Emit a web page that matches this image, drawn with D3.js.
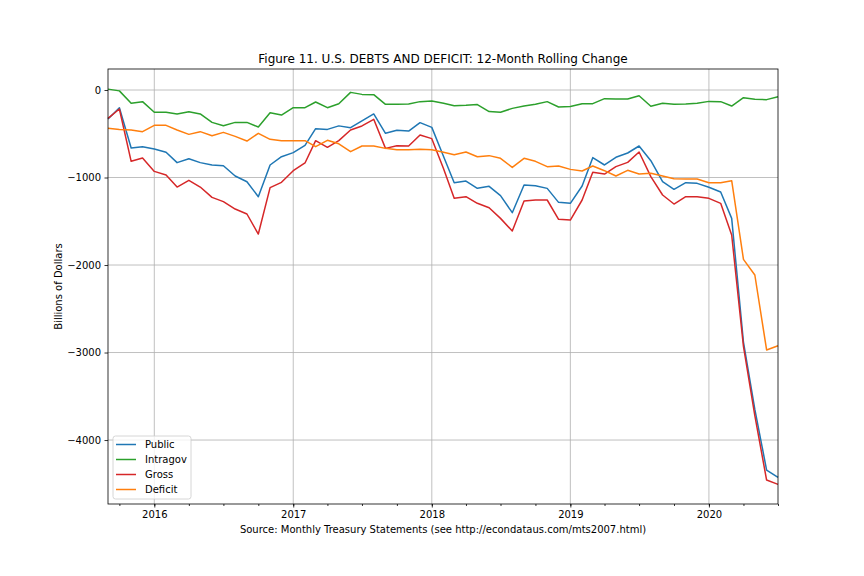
<!DOCTYPE html>
<html>
<head>
<meta charset="utf-8">
<script src="https://cdn.jsdelivr.net/npm/d3@7"></script>
<style>
  body { margin: 0; background: #fff; }
  text { font-family: "DejaVu Sans", sans-serif; }
</style>
</head>
<body>
<svg width="864" height="576"></svg>
<script>
// monthly points, Sep 2015 .. Jul 2020
const startMonth = new Date(2015, 8, 1);
const nMonths = 59;

const publicDebt = [-331, -202, -663, -648, -674, -712, -830, -785, -830, -857, -865, -983, -1048, -1219, -857, -762, -716, -632, -442, -450,
  -410, -431, -354, -274, -495, -461, -469, -373, -427, -760, -1059, -1040, -1124, -1101, -1207, -1402, -1086, -1093, -1124, -1284,
  -1295, -1097, -773, -857, -769, -720, -640, -808, -1048, -1135, -1059, -1067, -1112, -1166, -1467, -2880, -3650, -4343, -4427];
const intragov = [10, -10, -152, -133, -255, -255, -274, -248, -274, -370, -408, -370, -370, -423, -259, -286, -202, -202, -137, -202,
  -158, -27, -50, -53, -164, -164, -160, -133, -126, -152, -179, -175, -167, -247, -255, -210, -183, -164, -133, -194,
  -188, -156, -156, -99, -103, -103, -65, -186, -152, -164, -160, -152, -130, -133, -183, -88, -107, -110, -76];
const gross = [-324, -217, -815, -777, -930, -971, -1109, -1032, -1109, -1227, -1276, -1360, -1417, -1646, -1116, -1055, -922, -834, -579, -655,
  -578, -457, -411, -335, -667, -636, -640, -514, -556, -900, -1238, -1219, -1295, -1345, -1467, -1611, -1269, -1257, -1257, -1478,
  -1486, -1257, -941, -960, -876, -827, -709, -990, -1200, -1303, -1219, -1219, -1238, -1295, -1657, -2930, -3720, -4457, -4507];
const deficit = [-438, -450, -457, -476, -404, -404, -457, -507, -476, -522, -484, -530, -583, -495, -564, -579, -579, -579, -648, -575,
  -615, -705, -640, -640, -667, -682, -682, -678, -682, -712, -739, -709, -762, -750, -781, -884, -781, -815, -876, -869,
  -907, -926, -869, -922, -983, -918, -960, -952, -983, -1013, -1017, -1017, -1059, -1059, -1036, -1935, -2114, -2971, -2922];

const seriesNames = ["Public", "Intragov", "Gross", "Deficit"];
const seriesColors = ["#1f77b4", "#2ca02c", "#d62728", "#ff7f0e"];
const yTicks = [0, -1000, -2000, -3000, -4000];

let svg = d3.select("svg");
let margin = { left: 108, right: 778, top: 69, bottom: 504 };

let dates = d3.range(nMonths).map(i => d3.timeMonth.offset(startMonth, i));
let allSeries = [publicDebt, intragov, gross, deficit];

let x = d3.scaleTime()
  .domain([dates[0], dates[nMonths - 1]])
  .range([margin.left, margin.right]);
let y = d3.scaleLinear()
  .domain([-4731, 240])
  .range([margin.bottom, margin.top]);

// grid
svg.append("g")
  .selectAll("line.gx")
  .data(x.ticks(d3.timeYear.every(1)))
  .enter().append("line")
  .attr("x1", d => x(d)).attr("x2", d => x(d))
  .attr("y1", margin.top).attr("y2", margin.bottom)
  .attr("stroke", "#b0b0b0").attr("stroke-width", 0.8);
svg.append("g")
  .selectAll("line.gy")
  .data(yTicks)
  .enter().append("line")
  .attr("x1", margin.left).attr("x2", margin.right)
  .attr("y1", d => y(d)).attr("y2", d => y(d))
  .attr("stroke", "#b0b0b0").attr("stroke-width", 0.8);

// lines
let line = d3.line()
  .x((d, i) => x(dates[i]))
  .y(d => y(d));

svg.append("g")
  .selectAll("path")
  .data(allSeries)
  .enter().append("path")
  .attr("d", d => line(d))
  .attr("fill", "none")
  .attr("stroke", (d, i) => seriesColors[i])
  .attr("stroke-width", 1.5)
  .attr("stroke-linejoin", "round");

// axes
let xAxis = d3.axisBottom(x)
  .ticks(d3.timeYear.every(1))
  .tickFormat(d3.timeFormat("%Y"))
  .tickSize(3.5)
  .tickPadding(3.5);
let xMinor = d3.axisBottom(x)
  .ticks(d3.timeMonth.every(3))
  .tickFormat("")
  .tickSize(2);
let yAxis = d3.axisLeft(y)
  .tickValues(yTicks)
  .tickFormat(d => d === 0 ? "0" : "\u2212" + Math.abs(d))
  .tickSize(3.5)
  .tickPadding(3.5);

let gxm = svg.append("g").attr("transform", `translate(0,${margin.bottom})`).call(xMinor);
let gx = svg.append("g").attr("transform", `translate(0,${margin.bottom})`).call(xAxis);
let gy = svg.append("g").attr("transform", `translate(${margin.left},0)`).call(yAxis);
for (let g of [gx, gy, gxm]) {
  g.select(".domain").remove();
  g.selectAll("text").attr("font-size", 10).attr("fill", "#000")
    .style("font-family", "DejaVu Sans");
  g.selectAll("line").attr("stroke", "#000").attr("stroke-width", 0.8);
}

// frame
svg.append("rect")
  .attr("x", margin.left).attr("y", margin.top)
  .attr("width", margin.right - margin.left)
  .attr("height", margin.bottom - margin.top)
  .attr("fill", "none").attr("stroke", "#000").attr("stroke-width", 0.8);

// labels
svg.append("text")
  .attr("x", (margin.left + margin.right) / 2).attr("y", 63)
  .attr("text-anchor", "middle").attr("font-size", 12)
  .text("Figure 11. U.S. DEBTS AND DEFICIT: 12-Month Rolling Change");
svg.append("text")
  .attr("x", (margin.left + margin.right) / 2).attr("y", 533)
  .attr("text-anchor", "middle").attr("font-size", 10)
  .text("Source: Monthly Treasury Statements (see http://econdataus.com/mts2007.html)");
svg.append("text")
  .attr("transform", `translate(62,${(margin.top + margin.bottom) / 2}) rotate(-90)`)
  .attr("text-anchor", "middle").attr("font-size", 10)
  .text("Billions of Dollars");

// legend
let legend = svg.append("g").attr("transform", "translate(113,436)");
legend.append("rect")
  .attr("width", 78).attr("height", 63).attr("rx", 2.5)
  .attr("fill", "#fff").attr("fill-opacity", 0.8)
  .attr("stroke", "#cccccc").attr("stroke-width", 0.8);
let item = legend.selectAll("g.item")
  .data(seriesNames)
  .enter().append("g")
  .attr("transform", (d, i) => `translate(0,${8.5 + i * 15})`);
item.append("line")
  .attr("x1", 3).attr("x2", 23)
  .attr("stroke", (d, i) => seriesColors[i]).attr("stroke-width", 1.5);
item.append("text")
  .attr("x", 32).attr("y", 3.5).attr("font-size", 10)
  .text(d => d);
</script>
</body>
</html>
